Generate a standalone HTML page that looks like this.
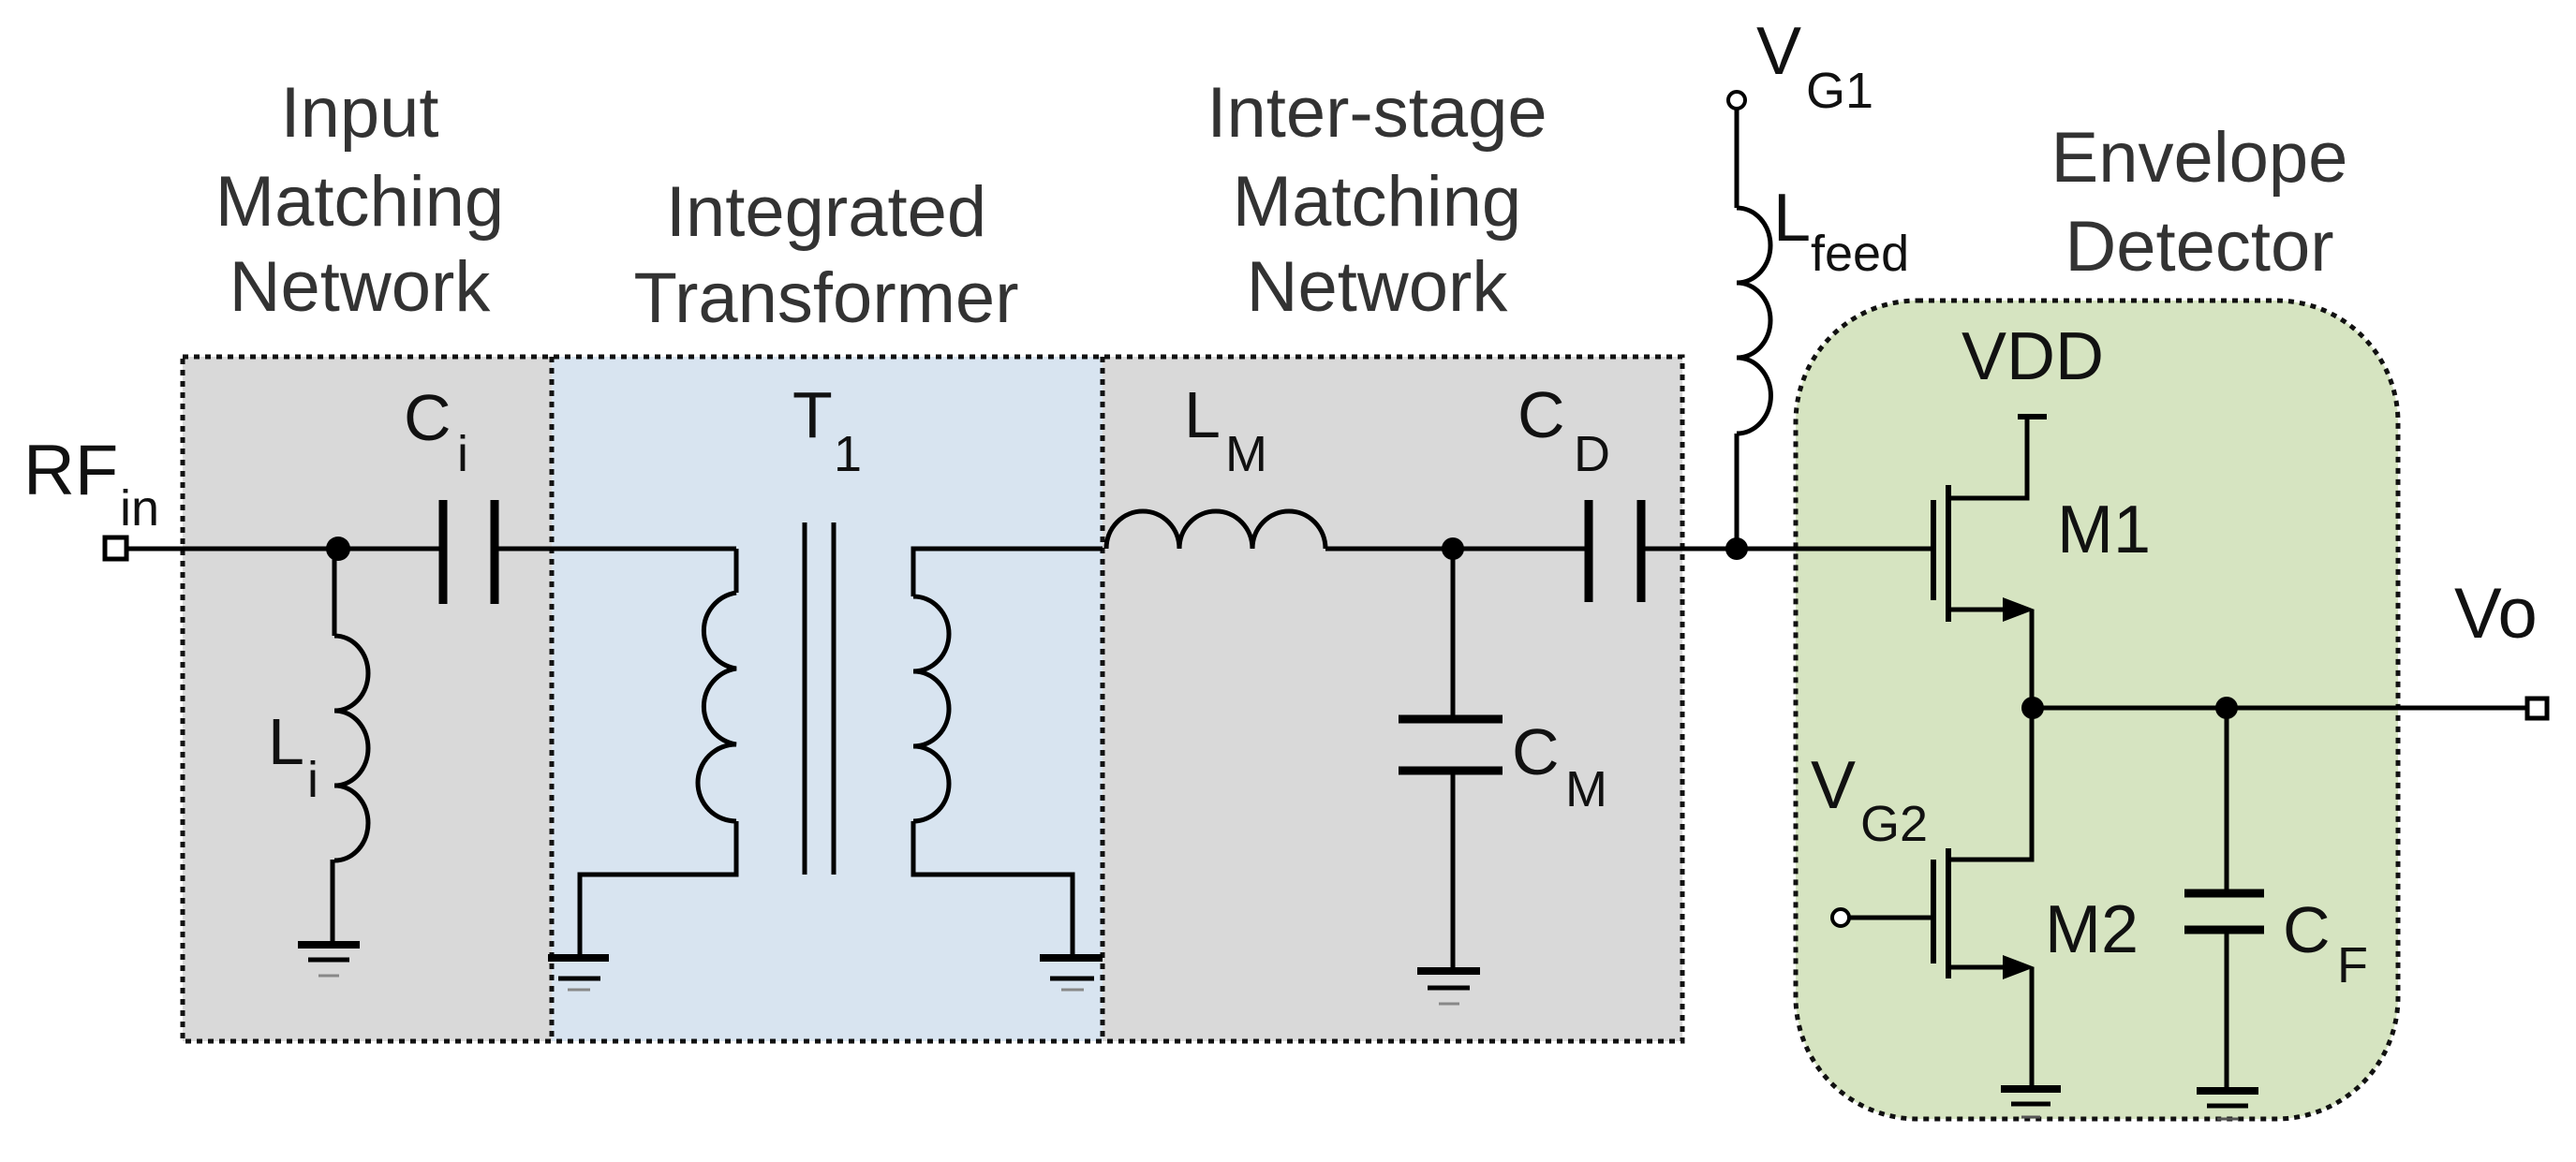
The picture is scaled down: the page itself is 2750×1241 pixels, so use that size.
<!DOCTYPE html>
<html><head><meta charset="utf-8"><style>
html,body{margin:0;padding:0;background:#fff;}
svg{display:block;}
text{font-family:"Liberation Sans",sans-serif;}
</style></head><body>
<svg width="2750" height="1241" viewBox="0 0 2750 1241" xmlns="http://www.w3.org/2000/svg">
<!-- boxes -->
<rect x="195" y="381" width="394" height="731" fill="#d9d9d9"/>
<rect x="589" y="381" width="588" height="731" fill="#d8e4f0"/>
<rect x="1177" y="381" width="619" height="731" fill="#d9d9d9"/>
<rect x="1917" y="321" width="643" height="874" rx="130" ry="130" fill="#d6e4c1" stroke="#111" stroke-width="5" stroke-dasharray="6 6"/>
<g fill="none" stroke="#111" stroke-width="5" stroke-dasharray="6 6">
<rect x="195" y="381" width="1601" height="731"/>
<line x1="589" y1="381" x2="589" y2="1112"/>
<line x1="1177" y1="381" x2="1177" y2="1112"/>
</g>
<!-- titles -->
<g fill="#333" font-size="76" text-anchor="middle">
<text x="384" y="146">Input</text><text x="384" y="241">Matching</text><text x="384" y="332">Network</text>
<text x="882" y="252">Integrated</text><text x="882" y="344">Transformer</text>
<text x="1470" y="146">Inter-stage</text><text x="1470" y="241">Matching</text><text x="1470" y="332">Network</text>
<text x="2348" y="194">Envelope</text><text x="2348" y="289">Detector</text>
</g>
<!-- wires -->
<g fill="none" stroke="#000" stroke-width="5">
<rect x="112" y="574" width="23" height="23" stroke-width="5" fill="#fff"/>
<line x1="135" y1="586" x2="473" y2="586"/>
<line x1="528" y1="586" x2="786" y2="586"/>
<line x1="357" y1="586" x2="357" y2="679"/>
<path d="M357 679 a36 40 0 0 1 0 80 a36 40 0 0 1 0 80 a36 40 0 0 1 0 80"/>
<line x1="355" y1="918" x2="355" y2="1009"/>
<!-- transformer primary -->
<line x1="786" y1="586" x2="786" y2="633"/>
<path d="M786 633 a41 41 0 0 0 0 81 a41 41 0 0 0 0 81 a41 41 0 0 0 0 82"/>
<polyline points="786,877 786,934 619,934 619,1023"/>
<!-- secondary -->
<polyline points="1177,586 975,586 975,637"/>
<path d="M975 637 a38 40 0 0 1 0 80 a38 40 0 0 1 0 80 a38 40 0 0 1 0 80"/>
<polyline points="975,877 975,934 1145,934 1145,1023"/>
<line x1="859" y1="558" x2="859" y2="934"/>
<line x1="890" y1="558" x2="890" y2="934"/>
<!-- LM -->
<path d="M1181 586 a39 40 0 0 1 78 0 a39 40 0 0 1 78 0 a39 40 0 0 1 78 0"/>
<line x1="1415" y1="586" x2="1696" y2="586"/>
<line x1="1752" y1="586" x2="2064" y2="586"/>
<line x1="1551" y1="586" x2="1551" y2="768"/>
<line x1="1551" y1="823" x2="1551" y2="1037"/>
<!-- Lfeed -->
<line x1="1854" y1="117" x2="1854" y2="222"/>
<path d="M1854 222 a36 40 0 0 1 0 80 a36 40 0 0 1 0 80 a36 40 0 0 1 0 81"/>
<line x1="1854" y1="463" x2="1854" y2="586"/>
<circle cx="1854" cy="107" r="9" fill="#fff" stroke-width="4"/>
<!-- M1 -->
<polyline points="2080,532 2164,532 2164,445"/>
<line x1="2080" y1="651" x2="2140" y2="651"/>
<polyline points="2169,651 2169,918 2080,918"/>
<line x1="2170" y1="756" x2="2698" y2="756"/>
<rect x="2698" y="746" width="21" height="21" fill="#fff"/>
<!-- M2 -->
<line x1="2080" y1="1033" x2="2140" y2="1033"/>
<line x1="2169" y1="1033" x2="2169" y2="1163"/>
<line x1="1974" y1="980" x2="2064" y2="980"/>
<circle cx="1965" cy="980" r="9" fill="#fff" stroke-width="4"/>
<!-- CF -->
<line x1="2377" y1="756" x2="2377" y2="954"/>
<line x1="2377" y1="993" x2="2377" y2="1165"/>
</g>
<!-- thick parts -->
<g stroke="#000" stroke-width="9" fill="none">
<line x1="473" y1="534" x2="473" y2="645"/><line x1="528" y1="534" x2="528" y2="645"/>
<line x1="1696" y1="534" x2="1696" y2="643"/><line x1="1752" y1="534" x2="1752" y2="643"/>
<line x1="1493" y1="768" x2="1604" y2="768"/><line x1="1493" y1="823" x2="1604" y2="823"/>
<line x1="2332" y1="954" x2="2417" y2="954"/><line x1="2332" y1="993" x2="2417" y2="993"/>
<line x1="2154" y1="445" x2="2185" y2="445" stroke-width="6"/>
<line x1="2064" y1="534" x2="2064" y2="641" stroke-width="6"/>
<line x1="2080" y1="518" x2="2080" y2="664" stroke-width="6"/>
<line x1="2064" y1="918" x2="2064" y2="1029" stroke-width="6"/>
<line x1="2080" y1="906" x2="2080" y2="1045" stroke-width="6"/>
</g>
<polygon points="2138,638 2172,651 2138,664" fill="#000"/>
<polygon points="2138,1020 2172,1033 2138,1046" fill="#000"/>
<!-- grounds -->
<g stroke-width="8">
<g stroke="#000"><line x1="318" y1="1009" x2="384" y2="1009"/><line x1="329" y1="1025" x2="373" y2="1025" stroke-width="5"/></g>
<line x1="340" y1="1042" x2="362" y2="1042" stroke="#888" stroke-width="3"/>
<g stroke="#000"><line x1="585" y1="1023" x2="650" y2="1023"/><line x1="596" y1="1045" x2="641" y2="1045" stroke-width="5"/></g>
<line x1="606" y1="1057" x2="630" y2="1057" stroke="#888" stroke-width="3"/>
<g stroke="#000"><line x1="1110" y1="1023" x2="1177" y2="1023"/><line x1="1121" y1="1045" x2="1168" y2="1045" stroke-width="5"/></g>
<line x1="1133" y1="1057" x2="1157" y2="1057" stroke="#888" stroke-width="3"/>
<g stroke="#000"><line x1="1513" y1="1037" x2="1580" y2="1037"/><line x1="1524" y1="1055" x2="1569" y2="1055" stroke-width="5"/></g>
<line x1="1536" y1="1072" x2="1558" y2="1072" stroke="#888" stroke-width="3"/>
<g stroke="#000"><line x1="2136" y1="1163" x2="2200" y2="1163"/><line x1="2147" y1="1179" x2="2189" y2="1179" stroke-width="5"/></g>
<line x1="2158" y1="1193" x2="2178" y2="1193" stroke="#555" stroke-width="3"/>
<g stroke="#000"><line x1="2345" y1="1165" x2="2411" y2="1165"/><line x1="2356" y1="1181" x2="2400" y2="1181" stroke-width="5"/></g>
<line x1="2367" y1="1195" x2="2389" y2="1195" stroke="#555" stroke-width="3"/>
</g>
<!-- dots -->
<g fill="#000">
<circle cx="361" cy="586" r="13"/><circle cx="1551" cy="586" r="12"/><circle cx="1854" cy="586" r="12"/>
<circle cx="2170" cy="756" r="12"/><circle cx="2377" cy="756" r="12"/>
</g>
<!-- labels -->
<g fill="#111" font-size="76">
<text x="25" y="528">RF</text><text x="128" y="561" font-size="54">in</text>
<text x="431" y="470" font-size="70">C</text><text x="488" y="503" font-size="54">i</text>
<text x="286" y="816" font-size="70">L</text><text x="328" y="851" font-size="54">i</text>
<text x="846" y="467" font-size="70">T</text><text x="890" y="503" font-size="54">1</text>
<text x="1264" y="467" font-size="70">L</text><text x="1308" y="503" font-size="54">M</text>
<text x="1620" y="467" font-size="70">C</text><text x="1680" y="503" font-size="54">D</text>
<text x="1614" y="827" font-size="70">C</text><text x="1671" y="861" font-size="54">M</text>
<text x="1875" y="79" font-size="72">V</text><text x="1928" y="115" font-size="54">G1</text>
<text x="1893" y="257" font-size="72">L</text><text x="1933" y="289" font-size="54">feed</text>
<text x="2094" y="405" font-size="72">VDD</text>
<text x="2196" y="590" font-size="72">M1</text>
<text x="2620" y="681" font-size="76">Vo</text>
<text x="1933" y="863" font-size="72">V</text><text x="1986" y="898" font-size="54">G2</text>
<text x="2183" y="1017" font-size="72">M2</text>
<text x="2437" y="1017" font-size="70">C</text><text x="2495" y="1049" font-size="54">F</text>
</g>
</svg>
</body></html>
